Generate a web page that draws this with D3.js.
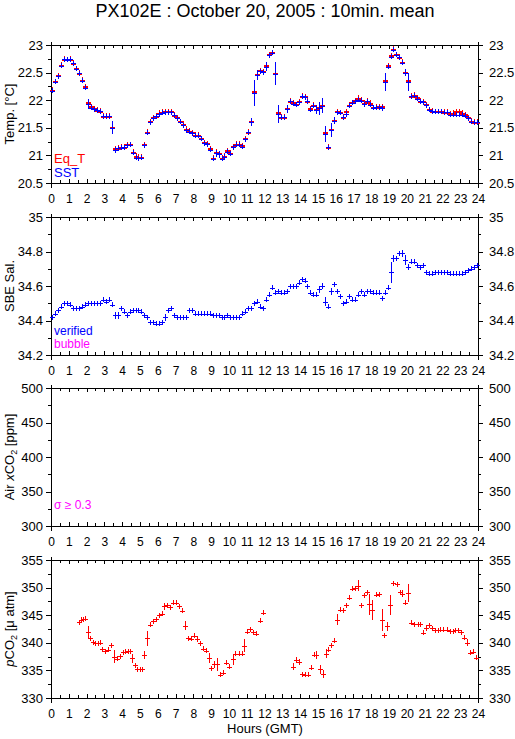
<!DOCTYPE html>
<html>
<head>
<meta charset="utf-8">
<script src="https://cdn.jsdelivr.net/npm/d3@7"></script>
<style>
  body { margin: 0; background: #fff; }
  svg { display: block; font-family: "Liberation Sans", Arial, Helvetica, sans-serif; }
</style>
</head>
<body>
<svg id="chart" width="515" height="739"></svg>
<script>
// ---- data (10 minute means) ----
const hourTicks = d3.range(0, 25);
const tempTicks = [20.5, 21, 21.5, 22, 22.5, 23];
const salTicks = [34.2, 34.4, 34.6, 34.8, 35];
const airTicks = [300, 350, 400, 450, 500];
const pco2Ticks = [330, 335, 340, 345, 350, 355];

// bin centres of the 144 ten-minute bins of the day
const binHours = d3.range(144).map(k => (k + 0.5) / 6);

const eqT = [
  22.19, 22.34, 22.45, 22.64, 22.75, 22.74, 22.75, 22.68, 22.58, 22.50,
  22.37, 22.25, 21.96, 21.89, 21.85, 21.83, 21.81, 21.72, 21.72, 21.72,
  21.51, 21.13, 21.14, 21.16, 21.16, 21.20, 21.20, 21.07, 20.99, 20.98,
  20.98, 21.20, 21.43, 21.62, 21.69, 21.72, 21.77, 21.79, 21.80, 21.80,
  21.80, 21.74, 21.69, 21.62, 21.57, 21.48, 21.45, 21.42, 21.37, 21.37,
  21.31, 21.24, 21.22, 21.13, 20.96, 21.07, 21.04, 20.96, 20.99, 21.09,
  21.05, 21.17, 21.21, 21.21, 21.18, 21.31, 21.43, 21.63, 22.16, 22.47,
  22.54, 22.52, 22.63, 22.83, 22.87, 22.50, 21.78, 21.70, 21.70, 21.85,
  21.99, 21.96, 21.93, 21.98, 22.08, 22.07, 21.99, 21.85, 21.92, 21.84,
  21.87, 21.92, 21.42, 21.16, 21.48, 21.64, 21.80, 21.78, 21.70, 21.80,
  21.92, 21.96, 22.00, 22.04, 22.01, 21.95, 21.99, 21.95, 21.87, 21.88,
  21.89, 21.89, 22.36, 22.63, 22.81, 22.93, 22.83, 22.79, 22.70, 22.51,
  22.36, 22.08, 22.10, 22.05, 21.99, 21.98, 21.93, 21.84, 21.81, 21.80,
  21.80, 21.80, 21.79, 21.79, 21.76, 21.77, 21.80, 21.80, 21.77, 21.75,
  21.69, 21.63, 21.61, 21.61
];

const sst = [
  22.17, 22.33, 22.43, 22.62, 22.74, 22.73, 22.74, 22.67, 22.57, 22.49,
  22.35, 22.23, 21.93, 21.86, 21.84, 21.82, 21.80, 21.71, 21.71, 21.71,
  21.50, 21.10, 21.13, 21.14, 21.15, 21.18, 21.19, 21.05, 20.96, 20.95,
  20.96, 21.18, 21.41, 21.60, 21.67, 21.71, 21.75, 21.77, 21.78, 21.78,
  21.78, 21.73, 21.67, 21.61, 21.55, 21.46, 21.43, 21.40, 21.36, 21.36,
  21.30, 21.22, 21.20, 21.10, 20.94, 21.04, 21.02, 20.94, 20.98, 21.07,
  21.03, 21.15, 21.19, 21.19, 21.16, 21.29, 21.42, 21.61, 22.13, 22.45,
  22.52, 22.51, 22.61, 22.81, 22.86, 22.48, 21.75, 21.69, 21.69, 21.84,
  21.98, 21.94, 21.92, 21.96, 22.07, 22.05, 21.98, 21.83, 21.90, 21.83,
  21.85, 21.90, 21.39, 21.15, 21.46, 21.63, 21.78, 21.77, 21.69, 21.75,
  21.90, 21.95, 21.98, 22.01, 21.99, 21.93, 21.98, 21.92, 21.86, 21.87,
  21.87, 21.86, 22.33, 22.61, 22.79, 22.91, 22.82, 22.78, 22.68, 22.50,
  22.33, 22.07, 22.08, 22.03, 21.98, 21.96, 21.91, 21.83, 21.80, 21.79,
  21.79, 21.79, 21.78, 21.78, 21.74, 21.74, 21.74, 21.74, 21.74, 21.72,
  21.67, 21.61, 21.60, 21.60
];

const sstSd = [
  0.03, 0.03, 0.03, 0.03, 0.03, 0.03, 0.03, 0.03, 0.03, 0.03,
  0.03, 0.03, 0.09, 0.03, 0.03, 0.03, 0.03, 0.03, 0.03, 0.03,
  0.12, 0.05, 0.03, 0.03, 0.03, 0.03, 0.03, 0.04, 0.03, 0.03,
  0.03, 0.03, 0.04, 0.03, 0.03, 0.03, 0.03, 0.03, 0.03, 0.03,
  0.03, 0.03, 0.03, 0.03, 0.03, 0.03, 0.03, 0.03, 0.03, 0.03,
  0.03, 0.03, 0.03, 0.04, 0.03, 0.06, 0.06, 0.03, 0.03, 0.03,
  0.03, 0.03, 0.03, 0.03, 0.03, 0.05, 0.03, 0.07, 0.24, 0.09,
  0.03, 0.03, 0.08, 0.03, 0.05, 0.21, 0.16, 0.03, 0.03, 0.08,
  0.03, 0.03, 0.03, 0.03, 0.03, 0.03, 0.03, 0.03, 0.03, 0.08,
  0.12, 0.14, 0.15, 0.03, 0.12, 0.06, 0.03, 0.03, 0.03, 0.05,
  0.03, 0.03, 0.03, 0.03, 0.03, 0.03, 0.03, 0.03, 0.03, 0.03,
  0.03, 0.06, 0.17, 0.03, 0.03, 0.03, 0.03, 0.03, 0.03, 0.06,
  0.17, 0.03, 0.03, 0.03, 0.03, 0.03, 0.03, 0.03, 0.03, 0.03,
  0.03, 0.03, 0.03, 0.03, 0.03, 0.03, 0.03, 0.03, 0.03, 0.03,
  0.03, 0.03, 0.03, 0.04
];

const salinity = [
  34.42, 34.44, 34.46, 34.48, 34.50, 34.50, 34.49, 34.47, 34.47, 34.47,
  34.48, 34.49, 34.50, 34.50, 34.50, 34.50, 34.50, 34.52, 34.51, 34.52,
  34.49, 34.43, 34.43, 34.47, 34.45, 34.43, 34.45, 34.46, 34.46, 34.46,
  34.45, 34.43, 34.42, 34.39, 34.39, 34.38, 34.38, 34.39, 34.42, 34.46,
  34.47, 34.43, 34.42, 34.42, 34.42, 34.42, 34.46, 34.46, 34.44, 34.44,
  34.44, 34.44, 34.44, 34.44, 34.43, 34.43, 34.43, 34.42, 34.42, 34.43,
  34.42, 34.42, 34.42, 34.42, 34.44, 34.45, 34.47, 34.47, 34.50, 34.51,
  34.48, 34.47, 34.52, 34.55, 34.59, 34.56, 34.57, 34.56, 34.56, 34.57,
  34.60, 34.60, 34.60, 34.62, 34.64, 34.63, 34.60, 34.56, 34.55, 34.55,
  34.58, 34.60, 34.51, 34.48, 34.57, 34.61, 34.57, 34.54, 34.50, 34.51,
  34.54, 34.52, 34.52, 34.55, 34.57, 34.55, 34.57, 34.57, 34.56, 34.56,
  34.56, 34.53, 34.56, 34.59, 34.68, 34.76, 34.76, 34.79, 34.79, 34.75,
  34.71, 34.74, 34.74, 34.72, 34.71, 34.72, 34.68, 34.67, 34.67, 34.68,
  34.68, 34.68, 34.68, 34.68, 34.67, 34.67, 34.67, 34.67, 34.67, 34.68,
  34.69, 34.70, 34.71, 34.72
];

const salSd = [
  0.01, 0.01, 0.01, 0.01, 0.01, 0.01, 0.01, 0.01, 0.01, 0.01,
  0.01, 0.01, 0.01, 0.01, 0.01, 0.01, 0.01, 0.01, 0.01, 0.01,
  0.01, 0.02, 0.02, 0.01, 0.01, 0.01, 0.01, 0.01, 0.01, 0.01,
  0.01, 0.01, 0.01, 0.01, 0.01, 0.01, 0.01, 0.01, 0.02, 0.01,
  0.01, 0.01, 0.01, 0.01, 0.01, 0.01, 0.01, 0.01, 0.01, 0.01,
  0.01, 0.01, 0.01, 0.01, 0.01, 0.01, 0.01, 0.01, 0.01, 0.01,
  0.01, 0.01, 0.01, 0.01, 0.01, 0.01, 0.01, 0.01, 0.01, 0.01,
  0.01, 0.01, 0.01, 0.012, 0.015, 0.01, 0.01, 0.01, 0.01, 0.01,
  0.01, 0.01, 0.01, 0.01, 0.01, 0.01, 0.01, 0.01, 0.01, 0.01,
  0.02, 0.02, 0.025, 0.01, 0.02, 0.015, 0.01, 0.01, 0.01, 0.01,
  0.01, 0.01, 0.01, 0.01, 0.01, 0.01, 0.01, 0.01, 0.01, 0.01,
  0.01, 0.01, 0.01, 0.01, 0.06, 0.02, 0.015, 0.015, 0.02, 0.03,
  0.015, 0.01, 0.01, 0.01, 0.01, 0.01, 0.01, 0.01, 0.01, 0.01,
  0.01, 0.01, 0.01, 0.01, 0.01, 0.01, 0.01, 0.01, 0.01, 0.01,
  0.01, 0.01, 0.01, 0.01
];

const pco2Hours = [
  1.55, 1.69, 1.82, 1.93, 2.06, 2.19, 2.34, 2.47, 2.62, 2.75,
  2.88, 3.01, 3.20, 3.37, 3.56, 3.71, 3.86, 4.03, 4.18, 4.31,
  4.44, 4.55, 4.70, 4.85, 4.98, 5.11, 5.22, 5.37, 5.54, 5.71,
  5.90, 6.05, 6.22, 6.37, 6.52, 6.69, 6.85, 7.02, 7.17, 7.36,
  7.53, 7.70, 7.87, 8.03, 8.20, 8.37, 8.52, 8.69, 8.86, 9.01,
  9.18, 9.35, 9.49, 9.68, 9.83, 10.02, 10.21, 10.37, 10.54, 10.71,
  10.84, 11.03, 11.18, 11.37, 11.53, 11.72, 11.89,
  13.58, 13.75, 13.92, 14.09, 14.25, 14.42, 14.59, 14.76, 14.92, 15.11,
  15.26, 15.43, 15.58, 15.73, 15.90, 16.07, 16.25, 16.40, 16.57, 16.74,
  16.91, 17.08, 17.23, 17.41, 17.58, 17.75, 17.90, 18.07, 18.24, 18.41,
  18.58, 18.74, 18.91, 19.08, 19.25, 19.42, 19.59, 19.75, 19.92, 20.07,
  20.26, 20.43, 20.60, 20.76, 20.91, 21.06, 21.23, 21.40, 21.57, 21.74,
  21.89, 22.06, 22.23, 22.40, 22.57, 22.73, 22.88, 23.05, 23.22, 23.39,
  23.56, 23.73, 23.90
];

const pco2 = [
  343.7, 344.2, 344.3, 344.4, 342.0, 340.8, 340.1, 339.9, 339.9, 340.0,
  338.8, 338.5, 338.7, 339.6, 337.5, 337.1, 337.6, 338.3, 338.4, 338.5,
  338.5, 337.2, 335.9, 335.2, 335.2, 335.2, 337.8, 340.8, 343.3, 343.9,
  344.3, 345.0, 345.3, 346.6, 346.8, 346.4, 347.3, 347.3, 346.6, 345.8,
  343.1, 340.8, 340.7, 341.3, 340.7, 339.9, 338.9, 338.6, 337.3, 335.4,
  336.1, 336.1, 334.2, 334.6, 336.4, 335.7, 337.0, 338.0, 338.0, 338.0,
  339.5, 342.0, 342.5, 341.9, 341.6, 344.0, 345.4,
  335.7, 336.9, 336.5, 334.3, 334.2, 334.2, 335.5, 337.8, 337.8, 335.2,
  334.3, 338.0, 338.7, 339.6, 340.4, 344.2, 346.0, 345.9, 346.8, 348.2,
  349.8, 349.9, 350.3, 346.8, 348.6, 349.2, 347.0, 345.9, 348.7, 348.8,
  344.2, 341.4, 343.0, 346.8, 350.8, 350.6, 349.2, 348.9, 347.3, 349.0,
  343.6, 343.4, 343.4, 343.4, 341.8, 342.7, 343.2, 342.6, 342.3, 342.3,
  342.4, 342.4, 342.4, 342.1, 342.1, 342.3, 342.3, 341.9, 340.9, 340.0,
  338.2, 338.4, 337.3
];

const pco2Sd = [
  0.35, 0.35, 0.35, 0.35, 1.1, 0.35, 0.35, 0.35, 0.35, 0.4,
  0.35, 0.35, 0.35, 0.35, 1.2, 0.35, 0.35, 0.35, 0.35, 0.35,
  0.35, 0.8, 0.35, 0.35, 0.35, 0.35, 0.7, 1.3, 0.5, 0.35,
  0.35, 0.35, 0.35, 0.6, 0.5, 0.35, 0.35, 0.35, 0.4, 0.35,
  0.8, 0.35, 0.35, 0.35, 0.5, 0.35, 0.35, 0.35, 0.9, 0.35,
  0.6, 1.2, 0.35, 0.35, 0.35, 0.5, 1.0, 0.35, 0.35, 0.35,
  1.2, 0.35, 0.35, 0.35, 0.35, 0.4, 0.35,
  0.6, 0.5, 0.6, 0.35, 0.35, 0.35, 0.5, 0.35, 0.7, 0.8,
  0.7, 0.8, 0.35, 0.4, 0.35, 1.0, 0.4, 0.35, 0.4, 0.4,
  0.35, 0.35, 1.0, 0.5, 0.35, 0.35, 1.9, 1.8, 0.35, 0.35,
  2.0, 0.35, 0.8, 1.8, 0.4, 0.5, 0.4, 0.6, 0.5, 1.6,
  0.35, 0.35, 0.35, 0.35, 0.4, 0.5, 0.35, 0.35, 0.35, 0.35,
  0.35, 0.35, 0.35, 0.35, 0.35, 0.35, 0.35, 0.35, 0.35, 0.6,
  0.35, 0.35, 0.5
];

// ---- layout ----
const svg = d3.select("#chart");
const plotLeft = 51, plotRight = 478, panelH = 138;
const fontFamily = '"Liberation Sans", Arial, Helvetica, sans-serif';
const x = d3.scaleLinear().domain([0, 24]).range([plotLeft, plotRight]);
const halfHours = d3.range(0.5, 24, 1);

const panels = [
  { top: 45, domain: [20.5, 23], ticks: tempTicks },
  { top: 217, domain: [34.2, 35], ticks: salTicks },
  { top: 388, domain: [300, 500], ticks: airTicks },
  { top: 560, domain: [330, 355], ticks: pco2Ticks }
];

function styleAxis(g, size) {
  g.select(".domain").remove();
  g.selectAll("line").attr("stroke", "#000").attr("shape-rendering", "crispEdges");
  g.selectAll("text")
    .attr("fill", "#000")
    .style("font-family", fontFamily)
    .style("font-size", size + "px");
}

panels.forEach(p => {
  const bottom = p.top + panelH;
  p.y = d3.scaleLinear().domain(p.domain).range([bottom, p.top]);
  const minor = d3.pairs(p.ticks).map(([a, b]) => (a + b) / 2);
  const fmt = d => String(+d.toFixed(2));
  const g = svg.append("g");

  // y axes, both sides, ticks outwards
  g.append("g").attr("transform", `translate(${plotLeft},0)`)
    .call(d3.axisLeft(p.y).tickValues(p.ticks).tickSize(5).tickPadding(3).tickFormat(fmt))
    .call(a => styleAxis(a, 13));
  g.append("g").attr("transform", `translate(${plotLeft},0)`)
    .call(d3.axisLeft(p.y).tickValues(minor).tickSize(3).tickFormat(""))
    .call(a => styleAxis(a, 13));
  g.append("g").attr("transform", `translate(${plotRight},0)`)
    .call(d3.axisRight(p.y).tickValues(p.ticks).tickSize(5).tickPadding(6).tickFormat(fmt))
    .call(a => styleAxis(a, 13));
  g.append("g").attr("transform", `translate(${plotRight},0)`)
    .call(d3.axisRight(p.y).tickValues(minor).tickSize(3).tickFormat(""))
    .call(a => styleAxis(a, 13));

  // x ticks inward on top and bottom
  g.append("g").attr("transform", `translate(0,${p.top})`)
    .call(d3.axisBottom(x).tickValues(hourTicks).tickSize(4).tickFormat(""))
    .call(a => styleAxis(a, 12));
  g.append("g").attr("transform", `translate(0,${p.top})`)
    .call(d3.axisBottom(x).tickValues(halfHours).tickSize(3).tickFormat(""))
    .call(a => styleAxis(a, 12));
  g.append("g").attr("transform", `translate(0,${bottom})`)
    .call(d3.axisTop(x).tickValues(hourTicks).tickSize(4).tickFormat(""))
    .call(a => styleAxis(a, 12));
  g.append("g").attr("transform", `translate(0,${bottom})`)
    .call(d3.axisTop(x).tickValues(halfHours).tickSize(3).tickFormat(""))
    .call(a => styleAxis(a, 12));
  // hour labels below the panel
  g.append("g").attr("transform", `translate(0,${bottom})`)
    .call(d3.axisBottom(x).tickValues(hourTicks).tickSize(0).tickPadding(11.5).tickFormat(d3.format("d")))
    .call(a => styleAxis(a, 12));

  // frame
  g.append("rect")
    .attr("x", plotLeft + 0.5).attr("y", p.top + 0.5)
    .attr("width", plotRight - plotLeft).attr("height", panelH)
    .attr("fill", "none").attr("stroke", "#000").attr("shape-rendering", "crispEdges");
  [plotLeft, plotRight].forEach(px => {
    g.append("line")
      .attr("x1", px + 0.5).attr("x2", px + 0.5)
      .attr("y1", p.top - 3).attr("y2", bottom + 5)
      .attr("stroke", "#000").attr("shape-rendering", "crispEdges");
  });
});

// ---- y titles ----
function yTitle(p, build) {
  const t = svg.append("text")
    .attr("transform", `translate(14,${p.top + panelH / 2}) rotate(-90)`)
    .attr("text-anchor", "middle")
    .style("font-family", fontFamily)
    .style("font-size", "13px");
  build(t);
}
yTitle(panels[0], t => t.text("Temp. [°C]"));
yTitle(panels[1], t => t.text("SBE Sal."));
yTitle(panels[2], t => {
  t.append("tspan").text("Air ");
  t.append("tspan").style("font-style", "italic").text("x");
  t.append("tspan").text("CO");
  t.append("tspan").attr("dy", 3).style("font-size", "9px").text("2");
  t.append("tspan").attr("dy", -3).text(" [ppm]");
});
yTitle(panels[3], t => {
  t.append("tspan").style("font-style", "italic").text("p");
  t.append("tspan").text("CO");
  t.append("tspan").attr("dy", 3).style("font-size", "9px").text("2");
  t.append("tspan").attr("dy", -3).text(" [μ atm]");
});

// ---- title and x title ----
svg.append("text")
  .attr("x", 265).attr("y", 17).attr("text-anchor", "middle")
  .style("font-family", fontFamily).style("font-size", "18px")
  .text("PX102E : October 20, 2005 : 10min. mean");
svg.append("text")
  .attr("x", 265).attr("y", 733).attr("text-anchor", "middle")
  .style("font-family", fontFamily).style("font-size", "13px")
  .text("Hours (GMT)");

// ---- data marks: "+" with vertical bar of one standard deviation ----
const snap = v => Math.round(v) + 0.5;
function crosses(y, hours, values, sds, color, hWidth) {
  const pts = hours.map((h, i) => ({ h, v: values[i], s: sds[i] }));
  const g = svg.append("g").attr("stroke", color).attr("fill", "none")
    .attr("shape-rendering", "crispEdges");
  g.selectAll(".h").data(pts).join("line").attr("class", "h")
    .attr("x1", d => Math.round(x(d.h)) - 2).attr("x2", d => Math.round(x(d.h)) + 3)
    .attr("y1", d => snap(y(d.v))).attr("y2", d => snap(y(d.v)))
    .attr("stroke-width", hWidth);
  g.selectAll(".v").data(pts).join("line").attr("class", "v")
    .attr("x1", d => snap(x(d.h))).attr("x2", d => snap(x(d.h)))
    .attr("y1", d => Math.min(y(d.v + d.s), y(d.v) - 2.5))
    .attr("y2", d => Math.max(y(d.v - d.s), y(d.v) + 2.5))
    .attr("stroke-width", 1.2);
}
const red = "#ff0000", blue = "#0000ff", magenta = "#ff00ff";
crosses(panels[0].y, binHours, eqT, sstSd.map(() => 0.03), red, 2);
crosses(panels[0].y, binHours, sst, sstSd, blue, 1.2);
crosses(panels[1].y, binHours, salinity, salSd, blue, 1.2);
crosses(panels[3].y, pco2Hours, pco2, pco2Sd, red, 1.2);

// ---- legends ----
function legend(px, py, color, txt, size) {
  svg.append("text").attr("x", px).attr("y", py).attr("fill", color)
    .style("font-family", fontFamily).style("font-size", size + "px").text(txt);
}
legend(54, 163, red, "Eq_T", 13);
legend(54, 177, blue, "SST", 13);
legend(54, 335, blue, "verified", 12);
legend(54, 348, magenta, "bubble", 12);
legend(54, 509, magenta, "σ ≥ 0.3", 12);
</script>
</body>
</html>
